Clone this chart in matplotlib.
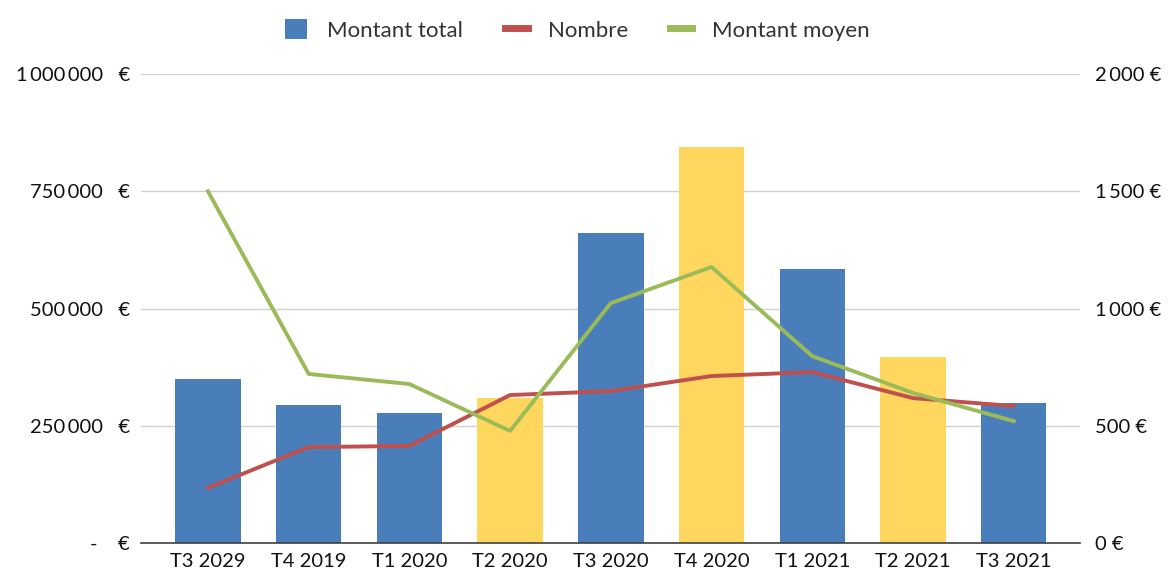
import matplotlib
matplotlib.use("Agg")
import matplotlib.pyplot as plt
from matplotlib.ticker import FuncFormatter
from matplotlib.patches import Patch
from matplotlib.lines import Line2D

categories = ["T3 2029", "T4 2019", "T1 2020", "T2 2020", "T3 2020", "T4 2020", "T1 2021", "T2 2021", "T3 2021"]
montant_total = [350000, 294000, 277000, 309000, 661000, 844000, 584000, 397000, 298000]
nombre = [235, 409, 414, 631, 648, 712, 729, 618, 584]
montant_moyen = [1500, 721, 678, 478, 1023, 1177, 797, 640, 520]
bar_colors = ["#4a7ebb", "#4a7ebb", "#4a7ebb", "#ffd75e", "#4a7ebb", "#ffd75e", "#4a7ebb", "#ffd75e", "#4a7ebb"]
left_ticks = [0, 250000, 500000, 750000, 1000000]
right_ticks = [0, 500, 1000, 1500, 2000]

plt.rcParams['font.family'] = ['Lato', 'DejaVu Sans']

fig = plt.figure(figsize=(11.69, 5.74), dpi=100)
ax = fig.add_axes([0.1206, 0.054, 0.8034, 0.817])
x = list(range(len(categories)))
ax.bar(x, montant_total, width=0.65, color=bar_colors, zorder=2)
ax.set_xlim(-0.665, len(categories) - 1 + 0.66)
ax.set_ylim(0, 1000000)
ax.set_yticks(left_ticks)

def fmt_left(v, pos):
    if v == 0:
        return "-    €"
    return f"{int(v):,}".replace(",", "\u2009") + "   €"

ax.yaxis.set_major_formatter(FuncFormatter(fmt_left))
ax.set_xticks(x)
ax.set_xticklabels(categories)
ax.grid(axis="y", color="#d0d0d0", linewidth=1, zorder=0)
for s in ["top", "left", "right"]:
    ax.spines[s].set_visible(False)
ax.spines["bottom"].set_color("#404040")
ax.spines["bottom"].set_linewidth(1.2)
ax.tick_params(axis="y", length=0, pad=8, labelsize=14.5, labelcolor="#111111")
ax.tick_params(axis="x", length=0, pad=7, labelsize=14.5, labelcolor="#111111")

ax2 = ax.twinx()
ax2.plot(x, nombre, color="#c0504d", linewidth=2.8, zorder=3)
ax2.plot(x, montant_moyen, color="#9bbb59", linewidth=2.8, zorder=3)
ax2.set_ylim(0, 2000)
ax2.set_yticks(right_ticks)

def fmt_right(v, pos):
    return f"{int(v):,}".replace(",", "\u2009") + " €"

ax2.yaxis.set_major_formatter(FuncFormatter(fmt_right))
for s in ["top", "left", "right", "bottom"]:
    ax2.spines[s].set_visible(False)
ax2.tick_params(axis="y", length=0, pad=11, labelsize=14.5, labelcolor="#111111")

handles = [Patch(facecolor="#4a7ebb"), Line2D([], [], color="#c0504d", linewidth=5),
           Line2D([], [], color="#9bbb59", linewidth=5)]
fig.legend(handles, ["Montant total", "Nombre", "Montant moyen"], loc="center",
           bbox_to_anchor=(0.494, 0.948), ncol=3, frameon=False, fontsize=16,
           handlelength=1.0, handleheight=1.0, columnspacing=1.9, handletextpad=0.9,
           labelcolor="#333333")

fig.savefig("out.png", dpi=100)
